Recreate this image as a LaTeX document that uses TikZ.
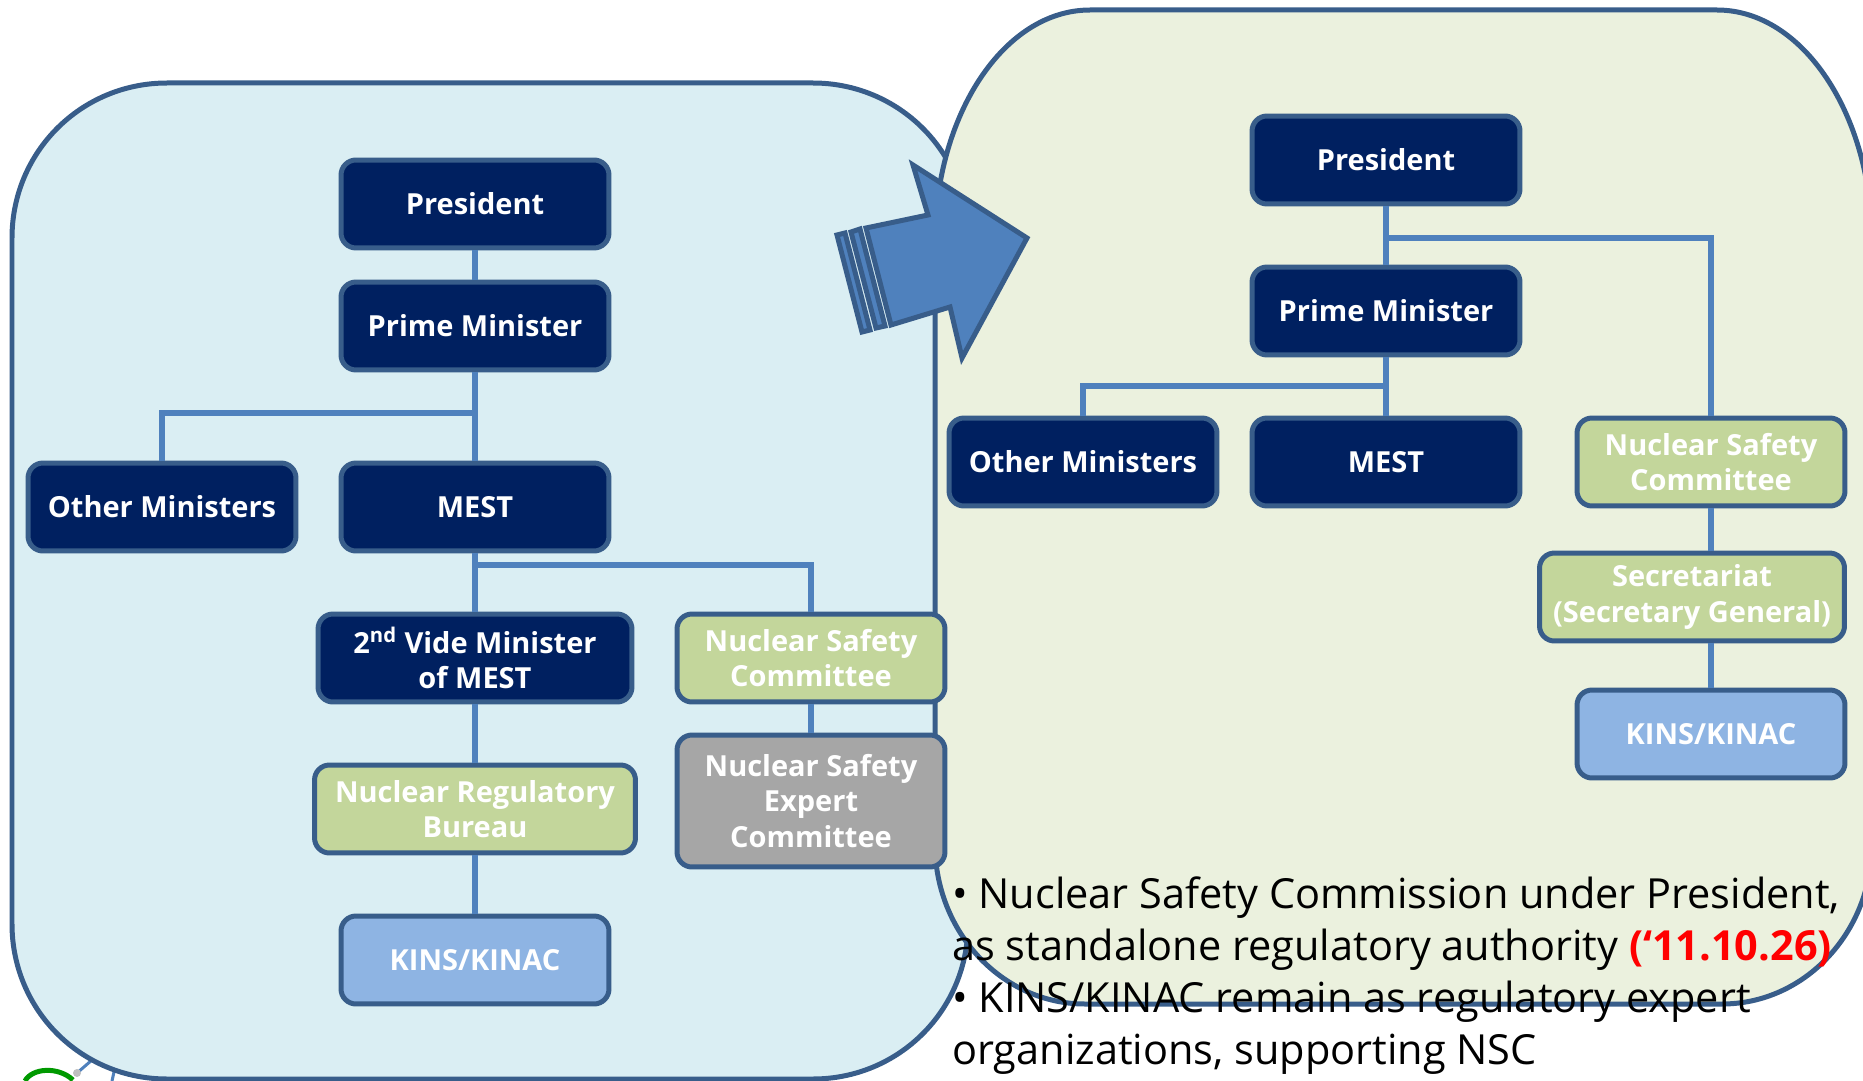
\documentclass[tikz,border=0pt]{standalone}
\usepackage{fontspec}
\setmainfont{Open Sans}
\usetikzlibrary{positioning}

\definecolor{navy}{HTML}{002060}
\definecolor{boxline}{HTML}{385D8A}
\definecolor{linkblue}{HTML}{4F81BD}
\definecolor{nscgreen}{HTML}{C3D69B}
\definecolor{expgrey}{HTML}{A6A6A6}
\definecolor{kinsblue}{HTML}{8EB4E3}
\definecolor{oldfill}{HTML}{DAEEF3}
\definecolor{newfill}{HTML}{EBF1DE}

\begin{document}
\begin{tikzpicture}[
    x=0.02cm, y=-0.02cm,
    govbox/.style={draw=boxline, fill=navy, line width=0.1cm, rounded corners=0.3cm, minimum width=5.36cm, minimum height=1.76cm, align=center, text=white, font=\fontsize{16.5}{20}\selectfont\bfseries},
    nscbox/.style={govbox, fill=nscgreen},
    expbox/.style={govbox, fill=expgrey},
    kinsbox/.style={govbox, fill=kinsblue},
    link/.style={draw=linkblue, line width=0.12cm},
    panel/.style={draw=boxline, line width=0.1cm}
]
    \useasboundingbox (0,0) rectangle (1863,1081);

    % logo fragment, bottom left
    \draw[linkblue, line width=0.06cm] (77,1073) -- (92,1060);
    \draw[linkblue, line width=0.06cm] (112,1081) -- (114,1072);
    \draw[green!60!black, line width=0.1cm] (25,1081) .. controls (32,1068) and (58,1066) .. (73,1080);
    \fill[gray!50] (77,1073) circle (4);

    % Panels (before and after)
    \draw[panel, fill=oldfill] (12,238) .. controls (12,152) and (81,83) .. (167,83) -- (813,83)
        .. controls (899,83) and (968,152) .. (968,238) -- (968,924)
        .. controls (968,1010) and (899,1079) .. (813,1079) -- (167,1079)
        .. controls (81,1079) and (12,1010) .. (12,924) -- cycle;
    \draw[panel, fill=newfill] (935,242) .. controls (935,115) and (1004,10) .. (1090,10) -- (1717,10)
        .. controls (1803,10) and (1872,115) .. (1872,242) -- (1872,844)
        .. controls (1872,932) and (1805,1004) .. (1722,1004) -- (1085,1004)
        .. controls (1002,1004) and (935,932) .. (935,844) -- cycle;

    % Old structure
    \node[govbox] (lpres) at (475,204) {President};
    \node[govbox] (lpm) at (475,326) {Prime Minister};
    \node[govbox] (lom) at (162,507) {Other Ministers};
    \node[govbox] (lmest) at (475,507) {MEST};
    \node[govbox, minimum width=6.28cm] (lvice) at (475,658) {2\textsuperscript{nd} Vide Minister\\of MEST};
    \node[nscbox] (lnsc) at (811,658) {Nuclear Safety\\Committee};
    \node[nscbox, minimum width=6.42cm] (lnrb) at (475,809) {Nuclear Regulatory\\Bureau};
    \node[expbox, minimum height=2.64cm] (lnsec) at (811,801) {Nuclear Safety\\Expert\\Committee};
    \node[kinsbox] (lkins) at (475,960) {KINS/KINAC};

    \coordinate (lsplit) at (475,413);
    \coordinate (lfork) at (475,565);
    \draw[link] (lpres) -- (lpm);
    \draw[link] (lpm) -- (lmest);
    \draw[link] (lsplit) -| (lom);
    \draw[link] (lmest) -- (lvice);
    \draw[link] (lfork) -| (lnsc);
    \draw[link] (lvice) -- (lnrb);
    \draw[link] (lnrb) -- (lkins);
    \draw[link] (lnsc) -- (lnsec);

    % New structure
    \node[govbox] (rpres) at (1386,160) {President};
    \node[govbox] (rpm) at (1386,311) {Prime Minister};
    \node[govbox] (rom) at (1083,462) {Other Ministers};
    \node[govbox] (rmest) at (1386,462) {MEST};
    \node[nscbox] (rnsc) at (1711,462) {Nuclear Safety\\Committee};
    \node[nscbox, minimum width=6.1cm] (rsec) at (1692,597) {Secretariat\\(Secretary General)};
    \node[kinsbox] (rkins) at (1711,734) {KINS/KINAC};

    \coordinate (rsplit) at (1386,238);
    \coordinate (rfork) at (1386,386);
    \draw[link] (rpres) -- (rpm);
    \draw[link] (rsplit) -| (rnsc);
    \draw[link] (rpm) -- (rmest);
    \draw[link] (rfork) -| (rom);
    \draw[link] (rnsc.south) -- (rnsc.south |- rsec.north);
    \draw[link] (rkins.north |- rsec.south) -- (rkins.north);

    % Striped arrow
    \draw[panel, fill=linkblue, line join=miter] (837,235) -- (845,233) -- (870,330) -- (862,332) -- cycle;
    \draw[panel, fill=linkblue, line join=miter] (851,232) -- (860,229) -- (885,326) -- (876,328) -- cycle;
    \draw[panel, fill=linkblue, line join=miter] (866,228) -- (928,215) -- (913,165) -- (1027,238)
        -- (962,358) -- (950,307) -- (891,325) -- cycle;

    % Notes
    \node[anchor=north west, inner sep=0, align=left, font=\fontsize{23.6}{29.6}\selectfont] (notes) at (952,876)
        {• Nuclear Safety Commission under President,\\
         as standalone regulatory authority {\color{red}\bfseries(‘11.10.26)}\\
         • KINS/KINAC remain as regulatory expert\\
         organizations, supporting NSC};
\end{tikzpicture}
\end{document}
